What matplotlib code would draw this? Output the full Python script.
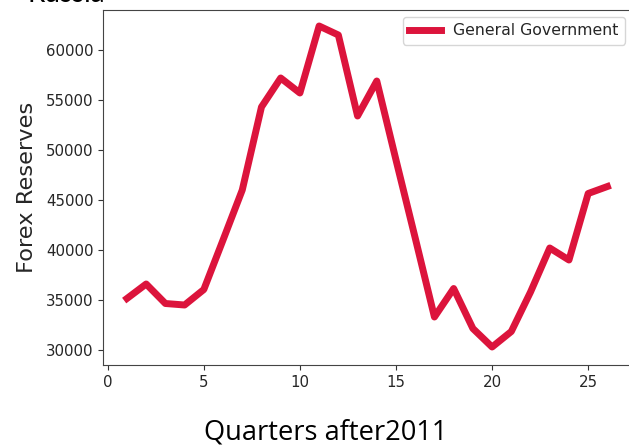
import matplotlib
matplotlib.use("Agg")
import matplotlib.pyplot as plt

quarters = list(range(1, 27))
reserves = [35150, 36600, 34650, 34500, 36050, 41000, 46000, 54300, 57200, 55700,
            62400, 61500, 53400, 56900, 49000, 41200, 33300, 36150, 32150, 30300,
            31850, 35800, 40200, 39000, 45650, 46350]
series_label = "General Government"
y_label = "Forex Reserves"
x_label = "Quarters after2011"
title = "Russia"

fig = plt.figure(figsize=(6.29, 4.46), dpi=100)
ax = fig.add_axes([103.5 / 629, 81 / 446, (632 - 103.5) / 629, (365 - 10) / 446])
ax.plot(quarters, reserves, color="#DC143C", linewidth=5, label=series_label)
ax.set_xlim(-0.22, 27.28)
ax.set_ylim(28500, 64000)
ax.set_xticks([0, 5, 10, 15, 20, 25])
ax.set_yticks([30000, 35000, 40000, 45000, 50000, 55000, 60000])
ax.tick_params(labelsize=10.8, colors="#333333", labelcolor="#262626")
for s in ax.spines.values():
    s.set_color("#444444")
ax.spines["right"].set_visible(False)
ax.set_ylabel(y_label, fontsize=16.2, color="#262626", labelpad=7)
leg = ax.legend(loc="upper right", fontsize=11.3, borderaxespad=0.45)
for t in leg.get_texts():
    t.set_color("#262626")

fig.text(204 / 629, 1 - 439 / 446, x_label, fontsize=19.6, family=["Open Sans", "DejaVu Sans"],
         ha="left", va="baseline", color="black")
fig.text(27 / 629, 1 - 2.0 / 446, title, fontsize=20, family=["Lato", "DejaVu Sans"],
         ha="left", va="baseline", color="black")

fig.savefig("out.png", dpi=100)
